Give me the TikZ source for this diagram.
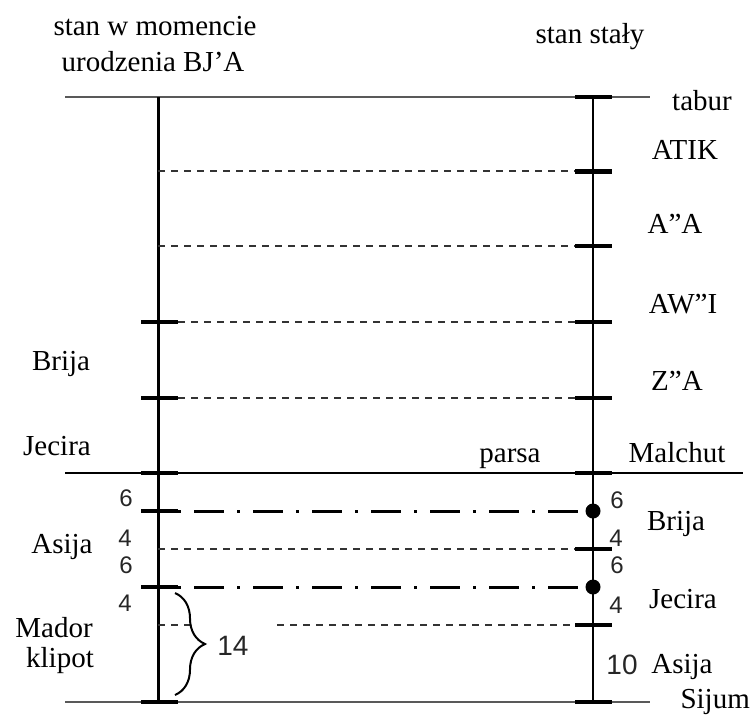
\documentclass[tikz,border=0pt]{standalone}
\usepackage{fontspec}
\setmainfont{Liberation Serif}
\newfontfamily\numfont{Liberation Sans}
\usetikzlibrary{decorations.pathreplacing}

\begin{document}
\begin{tikzpicture}[x=1pt,y=-1pt,
  lbl/.style={font=\fontsize{29}{36}\selectfont, anchor=base, inner sep=0pt},
  num/.style={font=\numfont\fontsize{24}{28}\selectfont, inner sep=0pt, text=black!85},
  bignum/.style={font=\numfont\fontsize{28}{32}\selectfont, inner sep=0pt, text=black!85},
  axisleft/.style={line width=3pt},
  axisright/.style={line width=1.3pt},
  thinrule/.style={line width=1.5pt, draw=black!65},
  mainrule/.style={line width=2.6pt},
  tickmark/.style={line width=4pt},
  dashrule/.style={line width=1.2pt, draw=black!80, dash pattern=on 7pt off 6pt},
  chainrule/.style={line width=3pt, dash pattern=on 3pt off 13pt on 30pt off 13pt},
  dotmark/.style={circle, fill=black, inner sep=0pt, minimum size=15pt},
]
\useasboundingbox (0,0) rectangle (751,715);

% the two vertical scales
\coordinate (Ltop) at (158,97);
\coordinate (Lbot) at (158,702);
\coordinate (Rtop) at (593,97);
\coordinate (Rbot) at (593,702);

% levels on the left scale
\foreach \y in {171,246,322,398,473,511,549,587,625}
  \coordinate (L\y) at (158,\y);
% levels on the right scale
\foreach \y in {171,246,322,398,473,511,549,587,625}
  \coordinate (R\y) at (593,\y);

% outer horizontal rules
\coordinate (topW) at (65,97);
\coordinate (topE) at (650,97);
\coordinate (midW) at (65,473);
\coordinate (midE) at (743,473);
\coordinate (botW) at (65,702);
\coordinate (botE) at (650,702);

\draw[thinrule] (topW) -- (topE);
\draw[thinrule] (botW) -- (botE);
\draw[mainrule] (midW) -- (midE);

\draw[axisleft] (Ltop) -- (Lbot);
\draw[axisright] (Rtop) -- (Rbot);

% dashed links between the scales
\draw[dashrule] (L171) -- ([xshift=-18pt]R171);
\draw[dashrule] (L246) -- ([xshift=-18pt]R246);
\draw[dashrule] ([xshift=20pt]L322) -- ([xshift=-18pt]R322);
\draw[dashrule] ([xshift=20pt]L398) -- ([xshift=-18pt]R398);
\draw[dashrule] (L549) -- ([xshift=-18pt]R549);
\coordinate (braceStem) at (190,625);
\coordinate (dashResume) at (277,625);
\draw[dashrule] (L625) -- (braceStem);
\draw[dashrule] (dashResume) -- ([xshift=-18pt]R625);

% dash-dot links ending in dots
\node[dotmark] (dotA) at (R511) {};
\node[dotmark] (dotB) at (R587) {};
\draw[chainrule] ([xshift=20pt]L511) -- (dotA);
\draw[chainrule] ([xshift=20pt]L587) -- (dotB);

% tick marks, left scale
\foreach \c in {L322,L398,L473,L511,L587,Lbot}
  \draw[tickmark] ([xshift=-17pt]\c) -- ([xshift=20pt]\c);
% tick marks, right scale
\foreach \c in {Rtop,R246,R322,R398,R473,R549,R625,Rbot}
  \draw[tickmark] ([xshift=-18pt]\c) -- ([xshift=19pt]\c);
\draw[line width=5pt] ([xshift=-18pt]R171) -- ([xshift=19pt]R171);

% brace grouping the lowest part
\coordinate (braceTop) at (175,593);
\coordinate (braceBot) at (175,695);
\draw[line width=2pt, decorate, decoration={brace, amplitude=30pt}] (braceTop) -- (braceBot);
\node[bignum] (n14) at (233,646) {14};

% headings
\node[lbl] (h1) at (155,35) {stan w momencie};
\node[lbl] (h2) at (153,71) {urodzenia BJ’A};
\node[lbl] (h3) at (590,43) {stan stały};

% right-hand labels
\node[lbl] (tabur) at (702,110) {tabur};
\node[lbl] (atik) at (685,159) {ATIK};
\node[lbl] (aa) at (675,233) {A”A};
\node[lbl] (awi) at (683,313) {AW”I};
\node[lbl] (za) at (677,390) {Z”A};
\node[lbl] (malchut) at (677,462) {Malchut};
\node[lbl] (parsa) at (510,462) {parsa};
\node[lbl] (rbrija) at (676,530) {Brija};
\node[lbl] (rjecira) at (683,608) {Jecira};
\node[lbl] (rasija) at (682,673) {Asija};
\node[lbl, anchor=base east] (sijum) at (750,708) {Sijum};

% left-hand labels
\node[lbl] (lbrija) at (61,370) {Brija};
\node[lbl] (ljecira) at (57,455) {Jecira};
\node[lbl] (lasija) at (62,553) {Asija};
\node[lbl] (mador) at (54,637) {Mador};
\node[lbl] (klipot) at (60,667) {klipot};

% numbers, left scale
\node[num] (l6a) at (126,498) {6};
\node[num] (l4a) at (125,538) {4};
\node[num] (l6b) at (126,565) {6};
\node[num] (l4b) at (125,603) {4};
% numbers, right scale
\node[num] (r6a) at (617,500) {6};
\node[num] (r4a) at (616,538) {4};
\node[num] (r6b) at (617,565) {6};
\node[num] (r4b) at (616,605) {4};
\node[bignum] (r10) at (622,665) {10};
\end{tikzpicture}
\end{document}
